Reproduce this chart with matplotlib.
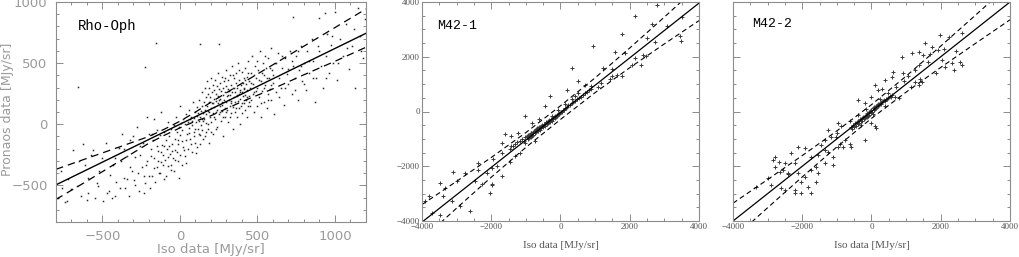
import matplotlib
matplotlib.use('Agg')
import matplotlib.pyplot as plt
from matplotlib.ticker import MultipleLocator

# Rho-Oph: Iso vs Pronaos
rho_x = [-790, -770, -760, -745, -732, -720, -700, -688, -667, -660, -650, -640, -625, -613, -600,
         -591, -591, -575, -559, -550, -537, -526, -520, -505, -494, -480, -470, -461, -451, -440,
         -430, -418, -418, -410, -396, -385, -375, -364, -353, -345, -332, -321, -310, -299, -288,
         -280, -267, -255, -245, -235, -227, -223, -215, -210, -202, -195,
         -185, -180, -175, -170, -165, -156, -150, -148, -140, -135, -130, -125, -120, -115, -110,
         -105, -100, -94, -90, -85, -80, -75, -70, -65, -61, -55, -50, -45, -40, -35, -30, -25, -20,
         -15, -10, -7, -5, 0, 0,
         5, 10, 15, 20, 25, 30, 37, 40, 45, 50, 55, 60, 62, 65, 70, 75, 80, 85, 88, 90, 95, 100, 102,
         105, 110, 112, 115, 118, 120, 125, 128, 130, 132, 135, 138, 140, 142, 145, 148, 150,
         155, 158, 160, 162, 165, 168, 170, 172, 175, 178, 180, 182, 185, 188, 190, 192, 195, 198,
         200, 202, 205, 208, 210, 212, 215, 218, 220, 222, 225, 228, 230, 232, 235, 238, 240, 242,
         245, 248, 250, 252, 253, 255, 258, 260, 262, 265, 268, 270, 272, 275, 278, 280, 282, 285,
         288, 290, 292, 295, 298, 300, 302, 305, 308, 310, 312, 315, 318, 320, 322, 325, 328, 330,
         332, 335, 338, 340, 342, 345, 348, 350, 352, 355, 358, 360, 362, 365, 368, 370, 372, 375,
         378, 380, 382, 385, 388, 390, 392, 395, 398, 400, 402, 405, 408, 410, 412, 415, 418, 420,
         422, 425, 428, 430, 432, 435, 438, 440, 442, 445, 448, 450,
         455, 460, 465, 470, 475, 480, 485, 490, 495, 500, 505, 510, 515, 520, 525, 530, 535, 540,
         545, 550, 555, 560, 565, 570, 575, 580, 585, 590, 595, 600, 605, 610, 620, 630, 640, 650,
         660, 670, 680, 690, 700, 710, 720, 727, 730, 740, 750, 760, 770, 780, 790, 800,
         810, 820, 835, 850, 860, 870, 880, 890, 900, 910, 920, 935, 940, 950, 960, 975, 990, 1000,
         1010, 1030, 1050, 1070, 1090, 1110, 1130, 1150, 1160, 1180, 1195,
         -380, -360, -340, -320, -300, -290, -270, -260, -240, -230, -220, -200, -190, -180, -170,
         -160, -150, -140, -130, -120, -110, -100, -90, -80, -70, -60, -50, -40, -30, -20, -10, 0,
         10, 20, 30, 40, 50, 60, 70, 80, 90, 100, 110, 120, 130, 140, 150, 160, 170, 180, 190, 200,
         210, 220, 230, 240, 250, 260, 270, 280, 290, 300, 310, 320, 330, 340, 350, 360, 370, 380,
         390, 400, 410, 420, 430, 440, 450, 460, 470, 480, 490, 500, 510, 520, 530, 540, 550, 560,
         570, 580, 590, 600, 620, 640, 660, 680, 700, 720, 740, 760, 780, 800, 830, 860, 900, 940,
         980, 1020, 1080, 1120, 1170]
rho_y = [-600, -380, -520, -640, -629, -450, -534, -210, -507, 305, -300, -590, -160, -332, -620,
         -440, -561, -250, -211, -600, -481, -507, -380, -278, -629, -150, -560, -548, -413, -600,
         -330, -589, -278, -470, -197, -520, -80, -440, -521, -260, -589, -130, -380, -454, -265,
         -20, -548, -180, -346, -420, 470, -481, 60, -300, -76, -520,
         -200, -427, -130, 40, -280, 665, -350, -49, -220, -400, -90, -310, 100, -170, -250,
         -450, -60, -292, -130, -200, 20, -340, -100, -240, -373, -40, -160, -280, -10, -120, -210, 60, -60,
         -160, -300, -440, -20, -90, 150,
         10, -140, -50, 40, -210, 0, -319, 80, -80, 20, -30, 120, 40, -120, 60, -10, 30, 180, -60, 50, 100, -150, -238,
         20, 70, 140, -40, 90, 30, 200, -90, 60, 658, 110, -10, 150, 40, 260, 90, -120,
         180, 40, 300, 120, -60, 220, 80, 150, 350, 0, 250, 110, -150, 180, 300, 60, 220, 130,
         380, 20, 260, 170, 90, 320, -80, 210, 140, 280, 40, 360, 190, 250, 100, 310, -20, 170,
         230, 420, 80, 290, 658, 150, 340, 210, 30, 270, 180, 390, 110, 240, 300, -100, 200, 350,
         130, 260, 60, 310, 180, 440, 230, 120, 290, 360, 20, 200, 270, 150, 400, 240, 90, 320,
         190, 480, 260, -40, 140, 300, 220, 380, 100, 260, 180, 340, 420, 240, 60, 300, 190, 500,
         250, 130, 360, 280, 0, 210, 320, 150, 430, 260, 90, 340, 230, 380, 170, 290, 120, 460,
         240, 330, 200, 60, 390, 280, 150, 520, 230, 350, 180, 300,
         420, 200, 560, 330, 100, 260, 480, 380, 150, 300, 440, 220, 600, 350, 60, 270, 500, 180,
         400, 320, 460, 130, 250, 540, 380, 290, 620, 200, 440, 340, 80, 500, 260, 580, 380, 300,
         460, 160, 540, 410, 330, 600, 250, 880, 480, 380, 560, 200, 440, 640, 350, 500,
         280, 600, 420, 700, 520, 180, 380, 640, 870, 480, 300, 910, 560, 740, 420, 650, 500, 920,
         360, 700, 560, 820, 450, 640, 300, 950, 720, 540, 860,
         -300, -200, -450, -350, -100, -500, -400, -250, -150, -560, -330, -420, -260, -80, -360,
         -470, -180, -300, -400, -230, -330, -180, -420, -270, -180, -330, -220, -380, -290, -230, -130, -250,
         -330, -190, -260, -130, -200, -70, -160, -230, -100, -40, -190, -80, -160, -50, 30, -100, 10, -40, 100, -60,
         170, 60, -40, 120, 200, 100, 160, 60, 380, 100, 240, 60, 170, 400, 300, 130, 230, 440,
         260, 170, 300, 360, 220, 420, 150, 340, 250, 400, 270, 520, 360, 170, 420, 300, 560, 380,
         200, 460, 320, 400, 500, 220, 560, 300, 450, 520, 280, 600, 480, 330, 520, 380, 600, 380,
         720, 500, 620, 780, 600]

# M42-1
m1_x = [2780, 2150, 2640, 3070, 3520, 1770, 2490, 2730, 3450, 3480, 940, 1580, 1860, 2150, 2390,
        2470, 2060, 2330, 320, 1240, 1490, 1770, 1480, 1620, 510, 700, 890, 1080, 1170, 1420, 200,
        -300, 510, 700, 410, 320, 130, -60, -1030, -440, -250, -630, -820,
        -1600, -1420, -1230, -1700, -1420, -1030, -750, -840, -1700, -1320, -1170, -1460, -1940,
        -1840, -1990, -2370, -2390, -2130, -1700, -2470, -2280, -1990, -2760, -3100, -3000, -3330,
        -3480, -3380, -3140, -2900, -2620, -3810, -3720, -3480, -3900, -2040, -1990,
        -980, -950, -930, -900, -880, -860, -840, -820, -800, -790, -770, -750, -740, -720, -700,
        -690, -670, -650, -640, -620, -600, -590, -570, -550, -540, -520, -500, -490, -470, -450,
        -440, -420, -400, -390, -370, -350, -340, -320, -300, -290, -270, -250, -230, -210, -190,
        -170, -150, -130, -110, -90, -70, -50, -30, -10, 10, 30, 60, 90, 120, 150, 190, 230, 270,
        320, 370, 420, 470, 520, 580, 640, 700, 760, 820, 880,
        -1450, -1380, -1300, -1250, -1180, -1120, -1060, -1030]
m1_y = [3900, 3480, 3210, 3140, 3460, 2840, 2690, 2530, 2750, 2580, 2380, 2160, 2140, 1960, 2080,
        2020, 1715, 1690, 1590, 1590, 1540, 1290, 1290, 1350, 1110, 950, 920, 900, 1040, 1170, 800,
        560, 680, 660, 560, 440, 290, 70, -170, 190, -170, -290, -410,
        -840, -900, -780, -1140, -1260, -1140, -1080, -780, -1500, -1630, -1500, -1850, -1750,
        -1990, -2060, -1870, -2120, -2240, -2360, -2540, -2660, -2660, -2240, -2210, -2540, -2790,
        -2610, -3090, -3270, -3450, -3630, -3090, -3720, -3780, -3270, -2960, -2700,
        -900, -1010, -850, -960, -820, -930, -780, -880, -760, -850, -700, -800, -720, -640, -760,
        -680, -600, -700, -620, -560, -660, -580, -520, -610, -540, -480, -560, -500, -440, -520,
        -460, -400, -470, -410, -360, -420, -380, -320, -380, -330, -280, -330, -250, -280, -210,
        -240, -170, -190, -130, -150, -90, -100, -40, -60, 0, -20, 40, 70, 110, 130, 170, 220, 250,
        300, 340, 390, 450, 500, 540, 610, 660, 720, 780, 830,
        -1380, -1250, -1200, -1100, -1060, -1000, -1080, -920]

# M42-2
m2_x = [1983, 2225, 2610, 1550, 1740, 1930, 1360, 1170, 880, 1500, 1640, 2030, 2320, 2370, 2130,
        2560, 2610, 1360, 1460, 1360, 1260, 920, 580, 630, 390, 190, 100, 290, 480, 680, 0, -190,
        -390, -390, -100, 0, 140, -630, -870, -970, -1260, -1020, -1160, -1350, -1450, -1350, -970,
        -820, -1260, -1550, -1740, -1930, -2120, -2320, -2220, -2510, -2800, -2850, -2660, -2560,
        -2420, -2120, -1930, -1740, -1590, -1550, -2030, -2220, -2510, -2610, -2220, -2030, -1740,
        -1590, -1830, -3000, -3330, -2900, -190, 100, -770, -630, -580, -1110, -1350, -2800, -1110,
        -600, -560, -530, -500, -470, -450, -420, -400, -380, -350, -330, -300, -280, -260, -240,
        -220, -200, -180, -160, -140, -120, -100, -80, -60, -40, -20, 0, 20, 40, 60, 80, 100, 120,
        140, 160, 180, 200, 220, 240, 260, 280, 300, 330, 360, 390, 420, 450, 480, 520, 560, 600,
        -300, -150, 50, 250, 400, 700, 800, 950, 1050, 1150, 1250, 1400, 1700, 1850, 2100, 2450,
        -900, -1000, -2400, -2650]
m2_y = [2790, 2730, 2850, 2490, 2370, 2240, 2180, 2120, 2000, 2060, 1820, 1880, 1760, 1510, 1640,
        1820, 1690, 1690, 1090, 960, 1090, 1390, 1270, 1450, 1150, 780, 960, 840, 660, 540, 540, 300,
        420, -120, -180, -420, -600, -360, -540, -420, -660, -920, -920, -1040, -1220, -1410, -1290,
        -1290, -1470, -1590, -1650, -1350, -1290, -1530, -1890, -1890, -1650, -1770, -1830, -2140,
        -2260, -2260, -2380, -2140, -2020, -2260, -2560, -2870, -2870, -2800, -2960, -2960, -2990,
        -2560, -2740, -2440, -2740, -2680, -1040, -540, -1040, -1170, -1290, -1650, -1890, -2020, -1950,
        -560, -640, -480, -560, -420, -520, -380, -460, -330, -420, -280, -360, -240, -330, -200,
        -290, -150, -240, -110, -200, -70, -160, -30, -110, 20, -60, 60, -10, 110, 40, 150, 90, 190,
        140, 230, 190, 270, 240, 310, 290, 350, 330, 380, 420, 400, 470, 450, 500, 560, 540, 620,
        -500, 100, -100, 450, 200, 900, 500, 1100, 1300, 900, 1500, 1200, 2100, 1400, 2300, 2200,
        -1200, -800, -2300, -2200]

# fitted line and dashed bounds
fit1_x = [-800, -600, -400, -200, -100, 0, 100, 200, 400, 600, 800, 1000, 1200]
fit1_mid = [-496, -372, -248, -124, -62, 0, 62, 124, 248, 372, 496, 620, 744]
fit1_hi = [-369, -279, -190, -100, -40, 25, 100, 180, 335, 487, 639, 791, 943]
fit1_lo = [-615, -465, -310, -155, -90, -30, 25, 70, 185, 290, 405, 515, 630]

fit_x = [-4000, -3000, -2000, -1000, 0, 1000, 2000, 3000, 4000]
fit2_mid = [-4040, -3040, -2040, -1040, -40, 960, 1960, 2960, 3960]
fit2_hi = [-3400, -2550, -1680, -770, 210, 1230, 2320, 3450, 4600]
fit2_lo = [-4680, -3530, -2400, -1310, -290, 690, 1600, 2470, 3320]
fit3_mid = [-4000, -3000, -2000, -1000, 0, 1000, 2000, 3000, 4000]
fit3_hi = [-3350, -2485, -1610, -708, 250, 1292, 2390, 3515, 4650]
fit3_lo = [-4650, -3515, -2390, -1292, -250, 708, 1610, 2485, 3350]

W, H = 1020., 257.
fig = plt.figure(figsize=(W/100, H/100), dpi=100)
ax1 = fig.add_axes([56/W, 1-222/H, 310/W, 220/H])
ax2 = fig.add_axes([422/W, 1-221/H, 277/W, 219/H])
ax3 = fig.add_axes([733/W, 1-221/H, 277/W, 219/H])

frame = '#8c8c8c'
for ax in (ax1, ax2, ax3):
    for s in ax.spines.values():
        s.set_color(frame)
        s.set_linewidth(0.8)
    ax.tick_params(which='both', direction='in', top=True, right=True, color=frame, width=0.7)
    ax.tick_params(which='major', length=5)
    ax.tick_params(which='minor', length=2.5)

# --- Rho-Oph
ax1.plot(rho_x, rho_y, 's', ms=1.1, mew=0, color='#2a2a2a')
ax1.plot(fit1_x, fit1_mid, '-', color='k', lw=1.0)
ax1.plot(fit1_x, fit1_hi, color='k', lw=0.9, dashes=(6, 4))
ax1.plot(fit1_x, fit1_lo, color='k', lw=0.9, dashes=(6, 4))
ax1.set_xlim(-800, 1200)
ax1.set_ylim(-800, 1000)
ax1.xaxis.set_major_locator(MultipleLocator(500))
ax1.xaxis.set_minor_locator(MultipleLocator(100))
ax1.yaxis.set_major_locator(MultipleLocator(500))
ax1.yaxis.set_minor_locator(MultipleLocator(100))
ax1.tick_params(labelsize=9.5, labelcolor='#9a9a9a', pad=6)
ax1.set_xlabel('Iso data [MJy/sr]', fontsize=9.5, color='#9a9a9a', labelpad=0)
ax1.set_ylabel('Pronaos data [MJy/sr]', fontsize=9, color='#9a9a9a')
ax1.yaxis.set_label_coords(-0.135, 0.51)
ax1.text(0.07, 0.89, 'Rho-Oph', transform=ax1.transAxes, family='Liberation Mono',
         fontsize=10, va='center')

# --- M42-1 and M42-2
for ax, px, py, mid, hi, lo, name, ytxt in (
        (ax2, m1_x, m1_y, fit2_mid, fit2_hi, fit2_lo, 'M42-1', 0.89),
        (ax3, m2_x, m2_y, fit3_mid, fit3_hi, fit3_lo, 'M42-2', 0.90)):
    ax.plot(px, py, '+', ms=3, mew=0.7, color='#3a3a3a')
    ax.plot(fit_x, mid, '-', color='k', lw=0.9)
    ax.plot(fit_x, hi, color='k', lw=0.8, dashes=(4.5, 3))
    ax.plot(fit_x, lo, color='k', lw=0.8, dashes=(4.5, 3))
    ax.set_xlim(-4000, 4000)
    ax.set_ylim(-4000, 4000)
    ax.xaxis.set_major_locator(MultipleLocator(2000))
    ax.xaxis.set_minor_locator(MultipleLocator(500))
    ax.yaxis.set_major_locator(MultipleLocator(2000))
    ax.yaxis.set_minor_locator(MultipleLocator(500))
    ax.tick_params(labelsize=6.5, labelcolor='#555555', pad=1.5)
    for lab in ax.get_xticklabels() + ax.get_yticklabels():
        lab.set_family('Liberation Serif')
    ax.set_xlabel('Iso data [MJy/sr]', fontsize=8, color='#555555', family='Liberation Serif',
                  labelpad=7)
    ax.text(0.055 if name == 'M42-1' else 0.07, ytxt, name, transform=ax.transAxes,
            family='Liberation Mono', fontsize=9.5, va='center')

ax3.tick_params(labelleft=False)

fig.savefig('out.png', dpi=100)
